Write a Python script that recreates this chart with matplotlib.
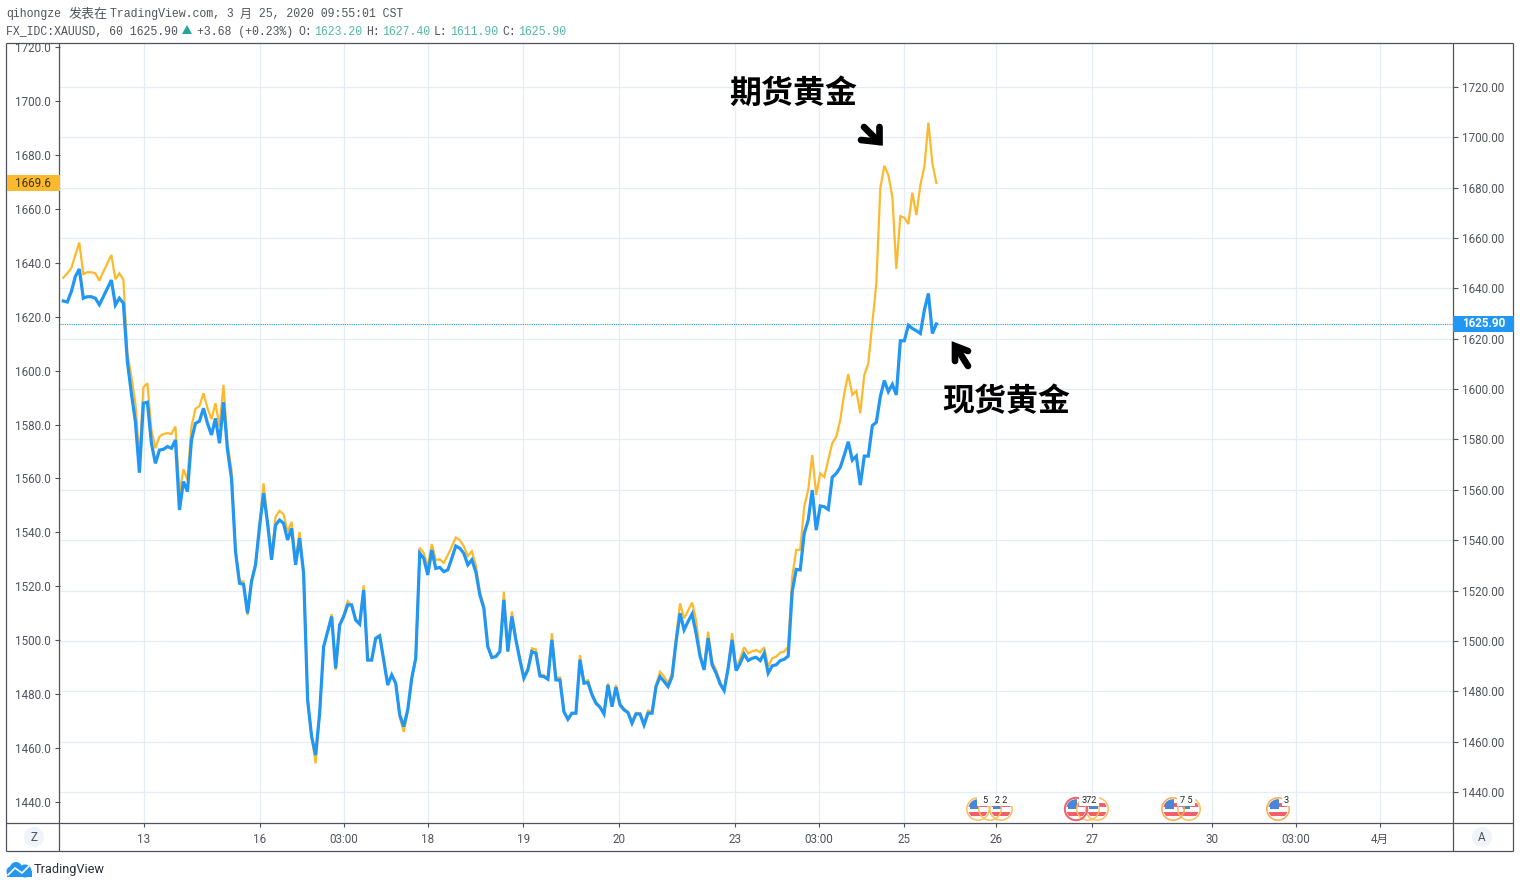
import matplotlib
matplotlib.use("Agg")
import matplotlib.pyplot as plt
from matplotlib.patches import Circle, Rectangle, Polygon
from matplotlib.transforms import Bbox, TransformedBbox

# ---- data ----
futures_gold = [
 1634.5,1636.1,1638.0,1642.9,1647.5,1635.8,1636.5,1636.5,1636.1,1633.4,1636.7,1639.8,1642.9,1633.9,1636.1,1633.7,
 1606.5,1597.8,1587.9,1566.9,1593.8,1595.3,1578.0,1571.2,1575.5,1576.5,1576.8,1576.5,1579.3,1554.5,1563.4,1559.5,
 1579.3,1585.8,1586.9,1591.6,1586.1,1582.0,1587.9,1579.3,1594.7,1573.1,1563.2,
 1533.4,1522.3,1521.7,1509.3,1522.3,1528.5,1542.7,1558.2,1544.6,1531.0,1545.8,1548.0,1546.7,1540.2,1543.9,1529.7,
 1540.2,1525.4,1478.4,1464.2,1454.3,1472.8,1497.6,1503.1,1509.7,1488.9,1505.6,1509.3,1514.5,1513.0,1507.7,1506.2,
 1520.4,1492.6,1492.6,1500.9,1501.9,1492.6,1483.4,1487.4,1484.0,1471.6,1466.0,1473.5,1485.8,1493.2,1534.3,1532.4,
 1527.2,1535.7,1529.7,1530.0,1528.7,1531.6,1534.7,1538.1,1537.1,1534.9,1531.2,1533.0,1527.9,1518.0,1513.0,1497.6,
 1493.6,1493.9,1495.7,
 1518.0,1495.8,1510.6,1500.7,1493.3,1486.5,1489.6,1497.0,1496.6,1487.3,1487.1,1485.9,1502.6,1486.2,1486.2,1473.5,
 1470.6,1472.9,1472.9,1494.5,1484.6,1485.2,1480.3,1477.2,1475.4,1472.9,1484.0,1475.6,1483.4,1476.6,1474.7,1473.5,
 1469.8,1473.1,1472.9,1468.9,1473.9,1473.5,1483.4,1488.3,1486.5,1484.0,1487.7,1501.3,1513.7,1508.1,1511.0,1514.0,
 1507.5,1495.1,1490.2,1503.2,1492.1,1489.0,1484.6,1481.5,1490.2,1502.6,1489.6,1493.3,1497.4,1495.1,1495.9,1496.4,
 1495.5,1497.4,1490.2,1493.3,1493.9,1495.4,1495.8,1497.6,
 1523.6,1533.5,1533.5,1549.6,1555.8,1568.7,1553.9,1561.9,1560.5,1566.9,1573.1,1575.5,1581.7,1591.6,1598.7,1591.0,
 1592.5,1584.2,1598.4,1602.7,1617.5,1632.4,1667.6,1676.0,1672.6,1664.5,1637.7,1657.3,1656.7,1654.4,1666.0,1657.7,
 1668.8,1675.6,1692.0,1676.9,1669.6]

spot_gold = [
 1635.0,1634.6,1638.7,1644.7,1647.7,1636.1,1636.7,1636.7,1636.1,1633.5,1636.7,1640.0,1643.3,1633.4,1636.1,1634.1,
 1610.9,1598.3,1587.1,1566.8,1594.4,1594.8,1578.5,1570.5,1575.8,1576.1,1577.2,1576.5,1579.8,1552.0,1563.3,1559.3,
 1579.8,1586.4,1587.3,1592.4,1586.4,1581.8,1588.4,1578.5,1594.8,1575.8,1564.5,
 1535.5,1522.9,1522.5,1511.0,1523.6,1530.2,1545.4,1558.6,1546.7,1532.2,1546.0,1548.0,1546.7,1540.1,1544.7,1530.2,
 1540.8,1526.9,1476.6,1462.0,1454.7,1471.3,1497.7,1503.7,1509.7,1489.1,1506.3,1509.7,1514.3,1514.3,1508.3,1506.7,
 1520.2,1492.4,1492.4,1501.0,1502.0,1492.4,1482.5,1486.5,1483.2,1470.6,1466.0,1472.6,1485.2,1493.1,1534.8,1532.8,
 1526.2,1536.1,1528.8,1529.2,1527.5,1528.2,1532.8,1537.7,1536.8,1534.8,1530.2,1532.2,1527.5,1518.3,1513.0,1497.7,
 1493.4,1493.8,1495.8,
 1516.3,1495.8,1509.7,1500.4,1492.5,1485.2,1488.5,1495.8,1495.1,1486.1,1485.8,1484.8,1500.4,1484.5,1484.5,1471.9,
 1468.9,1471.3,1471.3,1492.5,1483.2,1483.5,1478.6,1475.2,1473.7,1471.0,1482.5,1473.9,1481.6,1474.6,1472.6,1471.5,
 1467.3,1471.0,1471.0,1466.6,1471.3,1471.3,1481.9,1485.8,1483.9,1481.9,1485.8,1499.7,1511.0,1504.4,1507.7,1510.7,
 1503.0,1493.8,1488.5,1501.1,1490.5,1487.2,1482.9,1480.3,1489.1,1500.4,1488.2,1491.1,1494.8,1492.2,1493.1,1493.5,
 1492.2,1495.1,1487.2,1490.1,1490.5,1492.2,1492.7,1494.0,
 1519.6,1528.4,1528.2,1542.7,1548.0,1559.9,1544.0,1553.6,1553.3,1552.2,1565.0,1566.5,1568.9,1573.8,1579.1,1571.8,
 1573.4,1561.9,1573.4,1573.4,1585.5,1586.8,1597.0,1603.4,1599.0,1601.9,1597.7,1619.2,1619.2,1625.4,1624.1,1623.2,
 1622.1,1631.4,1638.0,1622.1,1625.9]

left_ticks = [1440,1460,1480,1500,1520,1540,1560,1580,1600,1620,1640,1660,1680,1700,1720]
right_ticks = [1440,1460,1480,1500,1520,1540,1560,1580,1600,1620,1640,1660,1680,1700,1720]
time_labels = ["13","16","03:00","18","19","20","23","03:00","25","26","27","30","03:00","4月"]
time_pos = [20.1,49.05,70.0,90.95,114.9,138.85,167.8,188.75,209.95,232.9,256.85,286.8,307.75,328.7]

# ---- layout ----
W, H = 1520, 888
L, R, T, B = 60, 1453, 44, 823
STEP = 4.005; X0 = 63.3
BLUE = "#2196f3"; ORANGE = "#fdb92d"; GRID = "#e4edf4"; INK = "#50535e"; TEAL = "#53b9a5"
MONO = "Liberation Mono"; SANS = ["Roboto", "Noto Sans CJK SC"]
CJK = "Noto Sans CJK SC"

fig = plt.figure(figsize=(W/100, H/100), dpi=100, facecolor="white")
rect = [L/W, 1-B/H, (R-L)/W, (B-T)/H]
ax_grid = fig.add_axes(rect, zorder=1)
ax_fut = fig.add_axes(rect, zorder=2, facecolor="none")
ax_spot = fig.add_axes(rect, zorder=3, facecolor="none")
ui = fig.add_axes([0, 0, 1, 1], zorder=10, facecolor="none")
ui.set_xlim(0, W); ui.set_ylim(H, 0); ui.axis("off")

xlim = ((L-X0)/STEP, (R-X0)/STEP)
ylim_right = (1427.69, 1737.06)
ylim_left = (1432.21, 1721.16)
for a in (ax_grid, ax_fut, ax_spot):
    a.set_xlim(*xlim)
    for s in a.spines.values():
        s.set_visible(False)
ax_grid.set_ylim(*ylim_right); ax_spot.set_ylim(*ylim_right); ax_fut.set_ylim(*ylim_left)

# grid + right axis + time axis
ax_grid.set_xticks(time_pos); ax_grid.set_xticklabels(time_labels)
ax_grid.set_yticks(right_ticks); ax_grid.set_yticklabels([f"{v:.2f}" for v in right_ticks])
ax_grid.yaxis.tick_right()
ax_grid.grid(True, color=GRID, lw=0.9)
ax_grid.set_axisbelow(True)
ax_grid.tick_params(axis="y", length=3.4, width=0.8, color=INK, labelcolor=INK, pad=3.4)
ax_grid.tick_params(axis="x", length=3.0, width=0.8, color=INK, labelcolor=INK, pad=4.2)
for t in ax_grid.get_xticklabels() + ax_grid.get_yticklabels():
    t.set_fontfamily(SANS); t.set_fontsize(8.4)

# left axis
ax_fut.set_xticks([])
ax_fut.set_yticks(left_ticks); ax_fut.set_yticklabels([f"{v:.1f}" for v in left_ticks])
ax_fut.tick_params(axis="y", length=3.4, width=0.8, color=INK, labelcolor=INK, pad=3.0)
clip = TransformedBbox(Bbox([[0, 0], [1, 1-T/H]]), fig.transFigure)
for t in ax_fut.get_yticklabels():
    t.set_fontfamily(SANS); t.set_fontsize(8.4)
    t.set_clip_box(clip); t.set_clip_on(True)
ax_spot.set_xticks([]); ax_spot.set_yticks([])

# series
ax_fut.plot(range(len(futures_gold)), futures_gold, color=ORANGE, lw=1.6, solid_joinstyle="miter")
ax_spot.plot(range(len(spot_gold)), spot_gold, color=BLUE, lw=2.3, solid_joinstyle="miter")
ax_spot.axhline(spot_gold[-1], color=BLUE, lw=0.8, ls=(0, (1, 1)))

# frame
for x0, y0, x1, y1 in [(6,43.5,1513,43.5),(6,823,1513,823),(6,851,1513,851),
                       (6,43.5,6,851),(1513,43.5,1513,851),(59,43.5,59,851),(1453,43.5,1453,851)]:
    ui.plot([x0, x1], [y0, y1], color=INK, lw=0.9, solid_capstyle="butt")

# price boxes, placed from the last values
to_ui_y = lambda axis, v: ui.transData.inverted().transform(axis.transData.transform((0, v)))[1]
y_r = to_ui_y(ax_spot, spot_gold[-1]); y_l = to_ui_y(ax_fut, futures_gold[-1])
ui.add_patch(Rectangle((1453, y_r-8), 61, 16, fc=BLUE, ec="none", zorder=5))
ui.text(1483.5, y_r, f"{spot_gold[-1]:.2f}", color="white", ha="center", va="center",
        fontsize=8.4, fontweight="bold", family="Roboto", zorder=6)
ui.add_patch(Rectangle((6.5, y_l-8), 53, 16, fc=ORANGE, ec="none", zorder=5))
ui.text(33, y_l, f"{futures_gold[-1]:.1f}", color="#3a3318", ha="center", va="center",
        fontsize=8.4, family="Roboto", zorder=6)

# header
def hdr(x, y, s, color=INK, family=MONO, size=8.3):
    ui.text(x, y, s, color=color, family=family, fontsize=size, ha="left", va="center")
hdr(6, 14, "qihongze"); hdr(69, 14, "发表在", family=CJK, size=9.4)
hdr(110, 14, "TradingView.com, 3"); hdr(240, 14, "月", family=CJK, size=8.6)
hdr(252.5, 14, " 25, 2020 09:55:01 CST")
hdr(6, 32, "FX_IDC:XAUUSD, 60 1625.90")
ui.add_patch(Polygon([[182, 34], [192, 34], [187, 25]], fc="#26a69a", ec="none"))
hdr(197, 32, "+3.68 (+0.23%)")
for x, lab, xv, val in [(298, "O:", 314, "1623.20"), (366, "H:", 382, "1627.40"),
                        (434, "L:", 450, "1611.90"), (502, "C:", 518, "1625.90")]:
    hdr(x, 32, lab); hdr(xv, 32, val, color=TEAL)

# annotations
ui.text(793, 94, "期货黄金", family=CJK, fontweight="bold", fontsize=23, ha="center", va="center", color="black")
ui.text(1006, 402, "现货黄金", family=CJK, fontweight="bold", fontsize=23, ha="center", va="center", color="black")
arrow = dict(color="black", lw=4.8, solid_capstyle="round", solid_joinstyle="miter")
ui.plot([864, 879], [127, 142], **arrow); ui.plot([879.5, 879.5, 861], [127, 142, 140], **arrow)
ui.plot([956, 968], [347, 366], **arrow); ui.plot([968, 955, 955], [351, 346, 361], **arrow)

# Z / A buttons
for cx, s in [(34, "Z"), (1482, "A")]:
    ui.add_patch(Circle((cx, 837), 10, fc="#f0f3fa", ec="none"))
    ui.text(cx, 837, s, color=INK, fontsize=8.4, family="Roboto", ha="center", va="center")

# calendar event badges
def badge(cx, cy=809, ring="#fdbf5a", flag=True, lw=1.1):
    if flag:
        clipc = Circle((cx, cy), 9.8, transform=ui.transData)
        for k, c in enumerate(["#ffffff", "#f25f6b", "#ffffff", "#f25f6b", "#ffffff"]):
            p = ui.add_patch(Rectangle((cx-11, cy-11+k*4.6), 22, 4.6, fc=c, ec="none", zorder=3))
            p.set_clip_path(clipc)
        p = ui.add_patch(Rectangle((cx-8, cy-10), 9, 9.5, fc="#4a86d8", ec="none", zorder=3))
        p.set_clip_path(clipc)
    ui.add_patch(Circle((cx, cy), 11.2, fc="none", ec=ring, lw=lw, zorder=4))

def badge_num(x, s, w):
    ui.add_patch(Rectangle((x-w/2, 795), w, 11, fc="white", ec="none", zorder=5))
    ui.text(x, 800.5, s, fontsize=6.6, family="Roboto", color="#222222", ha="center", va="center", zorder=6)

badge(1001); badge(990, flag=False); badge(978)
badge_num(995, "5   2 2", 36)
badge(1097); badge(1088, flag=False); badge(1076, ring="#f0606a", lw=1.4)
badge_num(1089, "372", 20)
badge(1189); badge(1173, ring="#fca84a")
badge_num(1186, "7 5", 18)
badge(1278, ring="#fca84a")
badge_num(1286, "3", 8)

# TradingView logo
for cx, cy, r in [(12, 871.5, 5.5), (16, 868, 6), (25, 871, 6.5)]:
    ui.add_patch(Circle((cx, cy), r, fc=BLUE, ec="none"))
ui.add_patch(Rectangle((7, 871), 25, 6, fc=BLUE, ec="none"))
ui.plot([8, 15, 22, 29], [875, 868, 873, 866], color="white", lw=1.2)
ui.text(34, 869.5, "TradingView", color="#2a2e39", family="Roboto", fontsize=9.2, ha="left", va="center")

assert len(futures_gold) == len(spot_gold)
fig.savefig("out.png", dpi=100, facecolor="white")
